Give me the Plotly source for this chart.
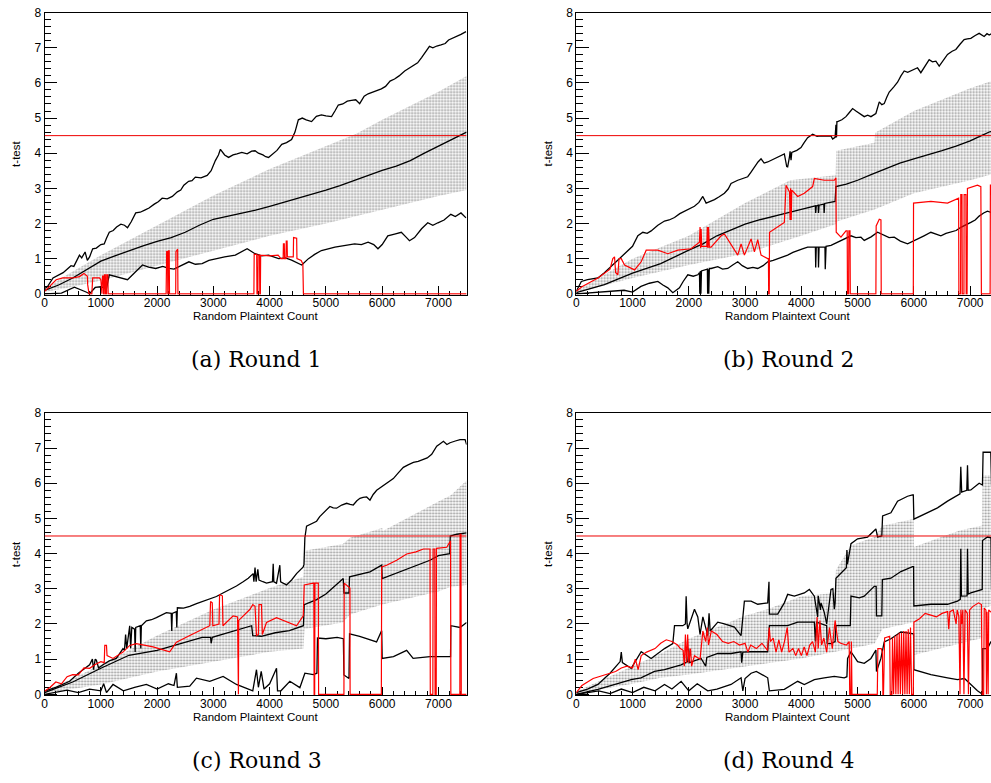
import plotly.graph_objects as go

# ---------------- data ----------------
THRESHOLD = 4.5
X_MAX = 7500
X_TICKS = [0, 1000, 2000, 3000, 4000, 5000, 6000, 7000]
Y_TICKS = [0, 1, 2, 3, 4, 5, 6, 7, 8]
CAPTIONS = ["(a) Round 1", "(b) Round 2", "(c) Round 3", "(d) Round 4"]
X_TITLE = "Random Plaintext Count"
Y_TITLE = "t-test"

# ---- Round 1 ----
a_band_lo = [(0,0.05),(500,0.2),(1000,0.38),(2000,0.8),(3000,1.22),(4000,1.65),(5000,2.0),(6000,2.4),(7000,2.78),(7500,2.95)]
a_band_hi = [(0,0.12),(300,0.45),(1000,1.1),(2000,1.95),(3000,2.8),(4000,3.55),(5000,4.2),(5540,4.55),(6000,4.95),(7000,5.75),(7500,6.2)]
a_upper = [(0,0.15),(50,0.2),(150,0.45),(206,0.49),(280,0.55),(330,0.6),(400,0.7),(470,0.8),(520,0.78),(580,0.95),(620,1.1),(660,1.02),(720,1.19),(760,0.95),(800,1.05),(855,1.28),(920,1.3),(1000,1.4),(1060,1.42),(1100,1.58),(1150,1.75),(1220,1.8),(1280,1.9),(1356,1.98),(1420,1.95),(1474,1.88),(1540,2.05),(1620,2.3),(1700,2.32),(1780,2.38),(1856,2.44),(1950,2.55),(2020,2.62),(2090,2.72),(2180,2.7),(2270,2.77),(2360,2.9),(2420,2.95),(2475,3.09),(2560,3.2),(2620,3.22),(2680,3.32),(2780,3.3),(2890,3.37),(2960,3.5),(3035,3.79),(3090,3.95),(3125,4.11),(3200,3.95),(3270,3.88),(3350,3.95),(3420,3.98),(3505,4.02),(3600,3.98),(3680,4.06),(3740,4.07),(3800,4.0),(3880,3.95),(3930,3.9),(3980,3.88),(4060,4.0),(4130,4.08),(4215,4.25),(4300,4.3),(4390,4.39),(4450,4.6),(4510,4.95),(4580,5.0),(4650,4.95),(4745,4.9),(4830,5.05),(4920,5.09),(5000,5.06),(5100,5.04),(5160,5.2),(5220,5.37),(5300,5.4),(5380,5.48),(5455,5.5),(5530,5.52),(5600,5.41),(5680,5.62),(5750,5.69),(5850,5.75),(5920,5.78),(5985,5.83),(6060,5.9),(6140,6.05),(6220,6.11),(6300,6.2),(6400,6.34),(6480,6.42),(6560,6.5),(6630,6.57),(6700,6.72),(6780,6.9),(6840,7.04),(6900,7.0),(6970,7.05),(7045,7.08),(7120,7.12),(7180,7.22),(7250,7.27),(7320,7.3),(7400,7.38),(7490,7.46)]
a_mid = [(0,0.1),(250,0.25),(500,0.45),(750,0.68),(1000,0.93),(1250,1.08),(1500,1.23),(1750,1.36),(2000,1.49),(2250,1.6),(2500,1.75),(2750,1.95),(3000,2.12),(3250,2.2),(3500,2.28),(3750,2.38),(4000,2.49),(4250,2.6),(4500,2.72),(4750,2.83),(5000,2.95),(5250,3.08),(5500,3.23),(5750,3.37),(6000,3.51),(6250,3.63),(6500,3.79),(6750,4.0),(7000,4.21),(7250,4.4),(7500,4.6)]
a_lower = [(0,0.0),(300,0.02),(530,0.19),(650,0.12),(737,0.05),(800,0.0),(900,0.18),(1000,0.2),(1100,0.15),(1150,0.54),(1300,0.48),(1474,0.4),(1600,0.6),(1740,0.82),(1850,0.76),(1975,0.72),(2100,0.78),(2210,0.72),(2300,0.7),(2390,0.77),(2480,0.85),(2565,0.91),(2680,0.84),(2800,0.86),(2920,0.95),(3035,1.0),(3200,1.05),(3390,1.1),(3500,1.2),(3600,1.28),(3740,1.14),(3860,1.08),(3980,1.1),(4160,1.0),(4280,1.02),(4390,0.96),(4570,0.82),(4690,1.0),(4800,1.12),(4920,1.23),(5040,1.28),(5160,1.33),(5350,1.38),(5510,1.42),(5630,1.4),(5750,1.47),(5850,1.4),(5925,1.28),(6000,1.4),(6100,1.65),(6220,1.7),(6340,1.75),(6420,1.62),(6485,1.51),(6575,1.6),(6700,1.85),(6810,2.02),(6900,1.95),(6990,2.02),(7100,2.1),(7220,2.26),(7300,2.2),(7400,2.3),(7490,2.16)]
a_red = [(0,0.07),(88,0.21),(206,0.4),(324,0.45),(500,0.45),(620,0.49),(700,0.58),(760,0.5),(766,0.26),(790,0.0),(840,0.0),(855,0.45),(973,0.45),(1000,0.4),(1010,0.0),(1020,0.0),(1030,0.5),(1045,0.5),(1050,0.0),(1060,0.0),(1065,0.54),(1080,0.54),(1085,0.0),(1100,0.0),(1105,0.54),(1125,0.54),(1130,0.0),(2160,0.0),(2170,1.2),(2185,1.2),(2190,0.0),(2195,0.0),(2200,1.22),(2215,1.22),(2220,0.0),(2330,0.0),(2335,1.2),(2355,1.25),(2365,1.27),(2370,0.0),(3720,0.0),(3725,1.12),(3770,1.12),(3775,0.0),(3790,0.0),(3795,1.1),(3820,1.1),(3825,0.0),(3835,0.0),(3840,1.1),(4000,1.08),(4150,1.1),(4200,1.0),(4240,1.0),(4245,1.42),(4260,1.42),(4265,1.0),(4290,1.0),(4295,1.5),(4310,1.5),(4315,1.05),(4420,1.05),(4425,1.6),(4480,1.58),(4485,1.0),(4560,0.95),(4590,0.85),(4600,0.0),(7500,0.0)]

# ---- Round 2 ----
b_band_lo = [(0,0.03),(500,0.25),(1000,0.45),(2000,0.82),(3000,1.14),(4000,1.65),(4610,1.98),(4620,2.05),(5300,2.4),(6000,2.86),(7000,3.23),(7500,3.45)]
b_band_hi = [(0,0.08),(500,0.55),(1000,1.0),(2000,1.65),(3000,2.58),(3800,3.23),(4610,3.37),(4620,4.07),(5300,4.3),(5310,4.58),(6000,5.2),(7000,5.85),(7500,6.12)]
b_upper = [(0,0.07),(90,0.35),(200,0.4),(385,0.45),(500,0.6),(600,0.75),(680,0.86),(800,1.05),(917,1.24),(1000,1.35),(1095,1.65),(1183,1.75),(1260,1.72),(1331,1.79),(1450,1.95),(1568,2.07),(1650,2.1),(1746,2.17),(1840,2.28),(1923,2.35),(2000,2.42),(2100,2.49),(2180,2.6),(2249,2.77),(2308,2.58),(2380,2.62),(2456,2.68),(2540,2.76),(2633,2.86),(2700,2.98),(2751,3.14),(2870,3.23),(2960,3.28),(3047,3.33),(3100,3.45),(3166,3.61),(3230,3.75),(3284,3.84),(3340,3.72),(3402,3.75),(3500,3.82),(3580,3.88),(3640,3.92),(3698,3.98),(3740,3.62),(3757,3.61),(3790,3.9),(3800,4.05),(3817,3.8),(3830,4.02),(3920,4.08),(3994,4.16),(4050,4.3),(4112,4.44),(4201,4.54),(4280,4.48),(4349,4.49),(4440,4.5),(4527,4.49),(4556,4.4),(4600,4.45),(4615,4.81),(4625,4.45),(4632,4.9),(4645,4.9),(4720,4.95),(4793,5.04),(4850,5.15),(4911,5.27),(4970,5.2),(5030,5.13),(5118,5.04),(5180,5.08),(5237,5.04),(5325,5.13),(5385,5.46),(5430,5.38),(5473,5.41),(5520,5.6),(5562,5.74),(5640,5.88),(5710,6.02),(5770,6.2),(5828,6.34),(5890,6.3),(5947,6.34),(6000,6.4),(6065,6.43),(6124,6.29),(6200,6.5),(6272,6.66),(6330,6.6),(6391,6.62),(6450,6.48),(6520,6.65),(6598,6.81),(6680,6.9),(6746,6.95),(6820,7.1),(6893,7.23),(6950,7.25),(7012,7.27),(7090,7.35),(7160,7.41),(7249,7.32),(7300,7.4),(7338,7.36),(7400,7.42)]
b_mid = [(0,0.03),(500,0.26),(1000,0.59),(1500,0.86),(2000,1.24),(2250,1.42),(2500,1.65),(2750,1.82),(3000,1.98),(3250,2.1),(3500,2.21),(3750,2.3),(4000,2.4),(4250,2.5),(4255,2.3),(4265,2.5),(4300,2.52),(4305,2.3),(4315,2.52),(4400,2.55),(4405,2.3),(4415,2.57),(4600,2.63),(4615,3.05),(4800,3.12),(5000,3.23),(5250,3.4),(5500,3.56),(5750,3.72),(6000,3.84),(6250,3.95),(6500,4.07),(6750,4.2),(7000,4.35),(7200,4.5),(7350,4.61),(7500,4.65)]
b_lower = [(0,0.0),(300,0.03),(600,0.06),(850,0.1),(1000,0.05),(1150,0.21),(1300,0.3),(1450,0.35),(1540,0.25),(1627,0.17),(1716,0.03),(1834,0.17),(1900,0.35),(1982,0.54),(2080,0.5),(2160,0.54),(2190,0.6),(2195,0.0),(2205,0.65),(2215,0.0),(2225,0.65),(2330,0.7),(2335,0.0),(2345,0.7),(2355,0.0),(2365,0.72),(2396,0.72),(2515,0.77),(2600,0.7),(2692,0.72),(2780,0.82),(2870,0.91),(2950,0.8),(3047,0.72),(3140,0.75),(3225,0.72),(3320,0.8),(3402,0.91),(3500,0.95),(3580,1.0),(3680,1.05),(3757,1.1),(3850,1.18),(3935,1.24),(4020,1.28),(4112,1.33),(4250,1.33),(4255,0.75),(4265,1.33),(4300,1.33),(4305,0.75),(4315,1.33),(4420,1.33),(4425,0.7),(4440,1.35),(4527,1.38),(4620,1.45),(4704,1.52),(4790,1.58),(4882,1.65),(4970,1.6),(5059,1.61),(5118,1.52),(5240,1.62),(5355,1.75),(5420,1.7),(5473,1.65),(5560,1.6),(5651,1.61),(5760,1.5),(5888,1.42),(5980,1.5),(6065,1.56),(6180,1.65),(6302,1.75),(6400,1.7),(6480,1.65),(6570,1.72),(6657,1.75),(6750,1.8),(6834,1.89),(6920,1.95),(7012,2.03),(7090,2.1),(7160,2.21),(7240,2.3),(7308,2.35),(7400,2.3)]
b_red = [(0,0.07),(100,0.2),(385,0.45),(600,0.7),(650,1.0),(680,1.05),(700,0.6),(740,0.54),(760,1.0),(800,1.0),(858,0.82),(1036,0.68),(1154,0.91),(1243,1.24),(1450,1.24),(1627,1.14),(1805,1.24),(2041,1.28),(2189,1.47),(2200,1.9),(2210,1.3),(2219,1.84),(2230,1.35),(2320,1.35),(2330,1.9),(2340,1.3),(2350,1.9),(2365,1.33),(2396,1.33),(2574,1.65),(2633,1.7),(2751,1.42),(2870,1.1),(2929,1.42),(2988,1.1),(3107,1.56),(3166,1.19),(3225,1.54),(3284,1.1),(3402,1.0),(3415,1.0),(3420,0.0),(3430,0.0),(3435,1.75),(3698,2.03),(3728,3.09),(3790,2.9),(3800,2.1),(3810,3.0),(3820,2.1),(3830,2.95),(3935,2.77),(4053,2.86),(4201,3.05),(4231,3.28),(4408,3.23),(4586,3.23),(4615,3.3),(4620,1.75),(4704,1.61),(4793,1.79),(4815,1.79),(4820,0.0),(4840,0.0),(4845,1.79),(4865,1.79),(4870,0.0),(5325,0.0),(5330,1.93),(5385,2.12),(5415,2.1),(5420,0.0),(5990,0.0),(5994,2.58),(6302,2.63),(6598,2.58),(6775,2.72),(6795,2.72),(6800,0.0),(6830,0.0),(6834,2.82),(6855,2.82),(6860,0.0),(6890,0.0),(6893,2.82),(6925,2.82),(6930,0.0),(6945,0.0),(6952,3.0),(7130,3.09),(7190,3.05),(7200,0.0),(7355,0.0),(7360,3.09),(7500,3.09)]

# ---- Round 3 ----
c_band_lo = [(0,0.03),(1000,0.28),(2000,0.65),(3000,0.93),(4000,1.21),(4600,1.3),(4620,1.86),(5300,2.04),(5430,2.27),(6000,2.55),(7000,2.92),(7220,3.06),(7500,3.11)]
c_band_hi = [(0,0.1),(500,0.45),(1000,0.84),(2000,1.67),(3000,2.41),(4000,3.02),(4600,3.34),(4620,4.08),(5300,4.27),(5430,4.45),(6000,4.73),(6010,4.64),(7000,5.48),(7220,5.66),(7500,6.08)]
c_upper = [(0,0.09),(200,0.2),(445,0.37),(600,0.6),(800,0.84),(850,1.0),(870,0.7),(900,1.0),(920,0.97),(960,0.75),(1038,0.84),(1150,0.95),(1275,1.02),(1394,1.3),(1420,1.25),(1440,1.7),(1460,1.3),(1513,1.95),(1530,1.3),(1550,1.9),(1600,1.85),(1610,1.2),(1620,1.9),(1700,1.95),(1710,1.3),(1720,1.95),(1809,2.09),(1900,2.12),(1987,2.18),(2080,2.25),(2165,2.32),(2250,2.3),(2260,1.8),(2270,2.3),(2340,2.35),(2350,1.9),(2360,2.46),(2470,2.45),(2580,2.5),(2700,2.58),(2817,2.65),(2940,2.72),(3054,2.78),(3170,2.88),(3292,2.97),(3410,3.08),(3529,3.2),(3620,3.3),(3707,3.43),(3720,3.2),(3740,3.6),(3760,3.2),(3790,3.55),(3810,3.25),(3880,3.2),(3944,3.16),(4050,3.2),(4063,3.71),(4075,3.2),(4122,3.16),(4181,3.67),(4195,3.2),(4300,3.11),(4390,3.25),(4478,3.43),(4540,3.52),(4597,3.62),(4610,3.7),(4626,4.45),(4656,4.78),(4750,4.85),(4834,4.92),(4890,5.05),(4953,5.15),(5010,5.25),(5071,5.34),(5130,5.3),(5190,5.29),(5280,5.38),(5368,5.43),(5430,5.4),(5486,5.38),(5550,5.5),(5605,5.57),(5660,5.6),(5724,5.61),(5783,5.52),(5840,5.68),(5902,5.8),(5990,5.9),(6079,5.99),(6140,6.05),(6198,6.13),(6290,6.3),(6376,6.45),(6460,6.52),(6554,6.59),(6640,6.62),(6732,6.68),(6800,6.72),(6880,6.82),(6969,7.05),(7030,7.12),(7088,7.19),(7150,7.1),(7206,7.15),(7300,7.2),(7384,7.24),(7473,7.24),(7500,7.1)]
c_mid = [(0,0.05),(500,0.35),(1000,0.74),(1500,1.11),(2000,1.25),(2500,1.48),(2800,1.62),(2950,1.62),(2960,1.45),(2980,1.62),(3200,1.72),(3500,1.86),(3680,1.95),(3700,1.67),(3850,1.65),(4100,1.75),(4350,1.81),(4600,1.95),(4615,2.55),(4834,2.69),(5000,2.85),(5308,3.29),(5320,2.88),(5410,2.88),(5420,3.34),(5783,3.48),(5991,3.67),(6000,3.29),(6376,3.53),(6850,3.81),(6999,3.94),(7200,4.0),(7210,4.5),(7325,4.55),(7500,4.59)]
c_lower = [(0,0.0),(200,0.05),(400,0.12),(600,0.05),(800,0.15),(1000,0.1),(1050,0.3),(1100,0.05),(1216,0.28),(1400,0.1),(1600,0.2),(1809,0.28),(2000,0.15),(2200,0.3),(2300,0.25),(2343,0.6),(2360,0.2),(2580,0.23),(2699,0.46),(2936,0.37),(3173,0.51),(3410,0.28),(3647,0.14),(3700,0.1),(3766,0.7),(3800,0.2),(3850,0.65),(3900,0.15),(4000,0.3),(4122,0.74),(4140,0.1),(4200,0.1),(4359,0.37),(4537,0.19),(4626,0.6),(4775,0.56),(4840,0.6),(4850,1.6),(5000,1.58),(5200,1.62),(5310,1.58),(5320,0.55),(5410,0.45),(5420,1.72),(5600,1.65),(5800,1.55),(5900,1.49),(5991,1.81),(6000,1.02),(6200,1.07),(6435,1.25),(6550,1.02),(6850,1.07),(7150,1.07),(7215,1.07),(7220,1.95),(7384,1.9),(7500,2.04)]
c_red = [(0,0.09),(100,0.2),(200,0.35),(300,0.3),(400,0.5),(500,0.56),(600,0.55),(700,0.75),(800,0.74),(900,0.85),(1000,0.93),(1060,0.9),(1070,1.39),(1100,1.39),(1110,1.1),(1216,1.02),(1394,1.2),(1513,1.39),(1631,1.44),(1928,1.35),(2224,1.21),(2343,1.48),(2580,1.67),(2817,1.86),(2936,1.95),(2950,2.64),(2980,2.6),(2990,1.95),(3100,2.0),(3110,2.83),(3160,2.8),(3170,1.95),(3351,2.23),(3430,2.2),(3435,0.0),(3445,0.0),(3450,2.1),(3647,2.41),(3700,2.55),(3740,2.5),(3766,1.67),(3800,1.7),(3810,2.55),(3855,2.55),(3870,1.7),(3944,2.04),(4122,2.18),(4359,2.04),(4478,1.95),(4597,2.23),(4615,3.11),(4775,3.16),(4785,3.16),(4790,0.0),(4800,0.0),(4805,3.16),(4865,3.16),(4870,0.0),(5320,0.0),(5325,3.16),(5427,3.02),(5430,0.0),(5985,0.0),(5991,3.62),(6079,3.67),(6257,3.81),(6435,3.99),(6600,4.05),(6732,4.13),(6850,4.13),(6855,0.0),(6900,0.0),(6905,4.13),(6935,4.13),(6940,0.0),(6960,0.0),(6965,4.15),(7147,4.18),(7206,4.36),(7215,4.36),(7220,0.0),(7380,0.0),(7385,4.55),(7400,4.55),(7405,0.0),(7500,0.0)]

# ---- Round 4 ----
d_band_lo = [(0,0.02),(1000,0.3),(1500,0.47),(2000,0.56),(3000,0.79),(3400,0.88),(4000,1.02),(4600,1.21),(4880,1.3),(5300,1.44),(5440,1.86),(5995,2.05),(6000,1.12),(6800,1.44),(7215,1.6),(7220,2.42),(7500,2.6)]
d_band_hi = [(0,0.08),(1000,0.8),(1500,1.16),(2000,1.58),(3000,2.23),(3400,2.42),(4000,2.79),(4600,2.88),(4615,3.53),(4880,4.23),(5300,4.47),(5440,4.79),(5995,4.98),(6000,4.19),(6800,4.65),(7215,4.8),(7220,6.23),(7500,6.23)]
d_upper = [(0,0.05),(200,0.15),(385,0.28),(600,0.6),(780,0.93),(800,1.2),(820,0.9),(976,0.74),(1154,1.21),(1331,1.02),(1568,1.3),(1716,1.44),(1746,1.95),(1893,1.95),(1940,2.0),(1953,2.79),(1970,2.0),(1982,1.86),(2101,2.42),(2160,2.2),(2200,1.7),(2250,2.2),(2337,1.67),(2360,2.3),(2380,1.8),(2515,2.05),(2633,2.0),(2811,1.91),(2929,1.67),(2988,2.65),(3107,2.65),(3225,2.56),(3402,2.6),(3425,3.2),(3432,2.28),(3580,2.28),(3698,2.6),(3757,2.84),(3876,2.79),(4053,2.88),(4142,2.98),(4231,2.79),(4290,2.2),(4300,2.8),(4340,2.4),(4350,2.6),(4408,2.33),(4450,2.0),(4527,2.98),(4560,3.0),(4586,2.42),(4600,2.6),(4615,3.3),(4763,3.53),(4800,3.6),(4810,4.1),(4820,3.7),(4882,4.28),(5000,4.42),(5178,4.47),(5325,4.7),(5355,4.47),(5430,4.5),(5444,5.07),(5592,5.16),(5710,5.49),(5888,5.63),(5976,5.67),(5990,5.67),(6000,4.98),(6183,5.12),(6420,5.3),(6598,5.49),(6775,5.67),(6820,5.7),(6834,6.47),(6850,5.75),(6940,5.8),(6953,6.51),(6965,5.8),(7012,5.81),(7160,6.0),(7219,5.95),(7230,6.88),(7308,6.88),(7367,6.88),(7380,5.95),(7500,5.95)]
d_mid = [(0,0.0),(385,0.14),(976,0.42),(1150,0.47),(1390,0.65),(1568,0.7),(1864,0.84),(1982,0.93),(2000,1.3),(2010,0.9),(2219,1.02),(2300,0.8),(2320,1.05),(2515,1.16),(2751,1.16),(2929,1.21),(2940,0.9),(2960,1.2),(3107,1.21),(3402,1.21),(3432,1.95),(3757,1.95),(3935,2.05),(4231,2.05),(4250,1.5),(4270,2.05),(4450,1.95),(4460,1.44),(4527,1.44),(4600,1.5),(4615,1.95),(4763,1.95),(4870,1.95),(4882,2.79),(5030,2.74),(5118,2.79),(5296,3.07),(5330,3.07),(5335,2.23),(5430,2.23),(5440,3.26),(5592,3.3),(5769,3.49),(5976,3.63),(5995,3.63),(6000,2.51),(6302,2.56),(6598,2.56),(6775,2.65),(6825,2.7),(6834,4.14),(6845,2.79),(6945,2.8),(6953,4.14),(6965,2.85),(7012,2.88),(7190,2.98),(7215,2.98),(7220,4.37),(7308,4.47),(7370,4.45),(7380,2.98),(7500,2.98)]
d_lower = [(0,0.0),(200,0.05),(400,0.1),(600,0.02),(800,0.15),(1000,0.05),(1200,0.2),(1400,0.1),(1568,0.28),(1700,0.15),(1864,0.37),(2000,0.1),(2150,0.3),(2337,0.1),(2500,0.15),(2751,0.28),(2929,0.47),(2960,0.1),(3000,0.45),(3107,0.6),(3200,0.65),(3402,0.47),(3432,0.1),(3698,0.14),(3935,0.37),(4053,0.28),(4231,0.42),(4408,0.47),(4586,0.51),(4763,0.47),(4810,0.5),(4822,1.02),(4882,1.21),(5000,0.93),(5118,0.88),(5237,1.02),(5325,1.26),(5335,0.65),(5414,1.02),(5473,1.49),(5592,1.58),(5769,1.77),(5947,1.72),(5995,1.72),(6000,0.7),(6302,0.56),(6598,0.47),(6775,0.42),(6900,0.45),(7000,0.3),(7130,0.1),(7219,0.0),(7225,1.3),(7308,1.3),(7367,1.49),(7500,1.49)]
d_red = [(0,0.05),(100,0.25),(200,0.35),(300,0.45),(400,0.5),(500,0.55),(600,0.6),(700,0.65),(800,0.75),(900,0.8),(1000,0.75),(1050,1.0),(1100,0.7),(1154,1.1),(1250,1.2),(1400,1.3),(1500,1.45),(1600,1.55),(1700,1.5),(1800,1.4),(1850,1.3),(1900,1.25),(1920,0.8),(1940,1.7),(1960,0.9),(1980,1.7),(2000,0.9),(2030,1.3),(2050,0.8),(2100,1.1),(2200,1.0),(2250,1.8),(2300,1.5),(2330,1.9),(2350,1.4),(2400,1.8),(2500,1.7),(2600,1.5),(2700,1.45),(2800,1.5),(2900,1.4),(3000,1.45),(3050,1.2),(3100,1.4),(3200,1.3),(3300,1.45),(3400,1.25),(3430,1.9),(3450,1.5),(3500,1.6),(3550,1.2),(3600,1.55),(3650,1.2),(3700,1.5),(3750,1.9),(3780,1.2),(3850,1.3),(3900,1.1),(3950,1.3),(4000,1.1),(4050,1.35),(4100,1.1),(4150,1.4),(4200,1.5),(4250,1.2),(4280,2.2),(4300,1.3),(4330,2.1),(4360,1.4),(4400,1.6),(4450,1.2),(4500,1.9),(4550,1.3),(4600,2.1),(4650,1.5),(4700,1.45),(4800,1.4),(4850,1.5),(4860,0.0),(4880,0.0),(4890,1.5),(4900,0.0),(5350,0.0),(5360,1.3),(5420,1.3),(5440,1.2),(5450,0.0),(5460,0.0),(5480,1.6),(5570,1.65),(5580,0.0),(5610,0.0),(5620,1.6),(5640,0.0),(5660,1.65),(5680,0.0),(5700,1.7),(5720,0.0),(5740,1.75),(5760,0.0),(5780,1.75),(5800,0.0),(5820,1.8),(5840,0.0),(5860,1.8),(5880,0.0),(5900,1.85),(5920,0.0),(5940,1.9),(5960,0.0),(5990,0.0),(6000,2.05),(6100,2.15),(6200,2.3),(6300,2.25),(6400,2.2),(6500,2.3),(6600,2.35),(6620,1.85),(6640,2.35),(6700,2.4),(6750,2.0),(6770,2.4),(6800,2.2),(6820,0.0),(6835,2.4),(6850,2.0),(6870,2.4),(6890,0.0),(6910,2.4),(6950,2.3),(6970,0.0),(6990,2.4),(7050,2.5),(7150,2.6),(7200,2.55),(7215,0.0),(7240,0.0),(7250,2.45),(7280,2.4),(7290,0.0),(7300,2.35),(7320,0.0),(7330,2.4),(7360,2.35),(7500,2.3)]

PANELS = [
    (a_band_lo, a_band_hi, a_upper, a_mid, a_lower, a_red),
    (b_band_lo, b_band_hi, b_upper, b_mid, b_lower, b_red),
    (c_band_lo, c_band_hi, c_upper, c_mid, c_lower, c_red),
    (d_band_lo, d_band_hi, d_upper, d_mid, d_lower, d_red),
]

# ---------------- layout geometry (pixels) ----------------
W, H = 991, 783
def fx(p): return p / W
def fy(p): return 1 - p / H

LEFT_COL = (41.7, 465.0)
RIGHT_COL = (575.0, 991.0)
TOP_ROW = (5.7, 292.7)
BOT_ROW = (412.7, 700.0)
PX_PER_UNIT = (465.0 - 41.7) / X_MAX
GEOM = [(LEFT_COL, TOP_ROW, True), (RIGHT_COL, TOP_ROW, False),
        (LEFT_COL, BOT_ROW, True), (RIGHT_COL, BOT_ROW, False)]

TICK_FONT = dict(family="Liberation Sans, Arial, sans-serif", size=12, color="black")
TITLE_FONT = dict(family="Liberation Sans, Arial, sans-serif", size=11.5, color="black")
CAP_FONT = dict(family="DejaVu Serif, serif", size=22, color="black")

def unzip(pairs):
    return [p[0] for p in pairs], [p[1] for p in pairs]

fig = go.Figure()
annotations = []
layout_axes = {}

for i, (series, geom) in enumerate(zip(PANELS, GEOM)):
    band_lo, band_hi, upper, mid, lower, red = series
    (x0, x1), (y0, y1), full = geom
    n = "" if i == 0 else str(i + 1)
    xa, ya = "x" + n, "y" + n

    lx, ly = unzip(band_lo)
    hx, hy = unzip(band_hi)
    fig.add_trace(go.Scatter(
        x=lx + hx[::-1], y=ly + hy[::-1], xaxis=xa, yaxis=ya,
        mode="lines", line=dict(width=0), fill="toself",
        fillcolor="rgba(255,255,255,0)",
        fillpattern=dict(shape=".", fgcolor="#2a2a2a", bgcolor="rgba(255,255,255,0)",
                         size=3, solidity=0.4),
        hoverinfo="skip", showlegend=False))
    for s in (upper, mid, lower):
        sx, sy = unzip(s)
        fig.add_trace(go.Scatter(x=sx, y=sy, xaxis=xa, yaxis=ya, mode="lines",
                                 line=dict(color="black", width=1.3), showlegend=False))
    rx, ry = unzip(red)
    fig.add_trace(go.Scatter(x=rx, y=ry, xaxis=xa, yaxis=ya, mode="lines",
                             line=dict(color="#ff0000", width=1.2), showlegend=False))
    fig.add_trace(go.Scatter(x=[0, X_MAX], y=[THRESHOLD, THRESHOLD], xaxis=xa, yaxis=ya,
                             mode="lines", line=dict(color="#ee0000", width=1), showlegend=False))

    xmax_vis = (x1 - x0) / PX_PER_UNIT if not full else X_MAX
    layout_axes["xaxis" + n] = dict(
        domain=[fx(x0), fx(x1)], range=[0, xmax_vis], anchor=ya,
        showgrid=False, zeroline=False, showline=True, linecolor="black", linewidth=1,
        mirror=True, ticks="inside", ticklen=8.6, tickwidth=1, tickcolor="black",
        tickmode="array", tickvals=X_TICKS, ticktext=[str(v) for v in X_TICKS],
        minor=dict(ticks="inside", ticklen=4.3, tickwidth=1, tickcolor="black",
                   dtick=200, tick0=0, showgrid=False),
        tickfont=TICK_FONT, ticklabelstandoff=-3, layer="below traces")
    layout_axes["yaxis" + n] = dict(
        domain=[fy(y1), fy(y0)], range=[-0.03, 8], anchor=xa,
        showgrid=False, zeroline=False, showline=True, linecolor="black", linewidth=1,
        mirror=full, ticks="inside", ticklen=12.7, tickwidth=1, tickcolor="black",
        tickmode="array", tickvals=Y_TICKS, ticktext=[str(v) for v in Y_TICKS],
        minor=dict(ticks="inside", ticklen=6.3, tickwidth=1, tickcolor="black",
                   dtick=0.2, tick0=0, showgrid=False),
        tickfont=TICK_FONT, layer="below traces")

    cx = x0 + X_MAX * PX_PER_UNIT / 2
    annotations.append(dict(text=X_TITLE, xref="paper", yref="paper",
                            x=fx(cx), y=fy(y1 + 21.5), xanchor="center", yanchor="middle",
                            showarrow=False, font=TITLE_FONT))
    annotations.append(dict(text=Y_TITLE, xref="paper", yref="paper", textangle=-90,
                            x=fx(x0 - 28.5), y=fy((y0 + y1) / 2), xanchor="center",
                            yanchor="middle", showarrow=False, font=TITLE_FONT))
    annotations.append(dict(text=CAPTIONS[i], xref="paper", yref="paper",
                            x=fx(cx + 1), y=fy(y1 + 66), xanchor="center", yanchor="middle",
                            showarrow=False, font=CAP_FONT))

fig.update_layout(
    width=W, height=H, margin=dict(l=0, r=0, t=0, b=0),
    paper_bgcolor="white", plot_bgcolor="white",
    showlegend=False, annotations=annotations, **layout_axes)

fig.write_html("out.html")
